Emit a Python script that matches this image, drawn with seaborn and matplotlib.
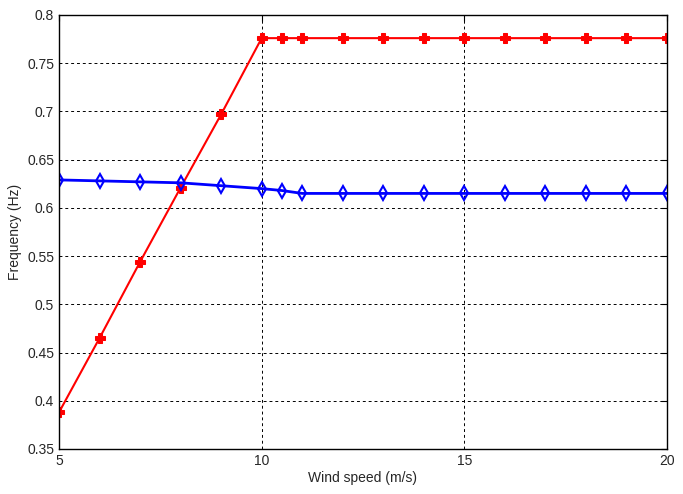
import numpy as np
import pandas as pd
import matplotlib
matplotlib.use('Agg')
import matplotlib.pyplot as plt
import seaborn as sns
from matplotlib.ticker import FuncFormatter

# dati
wind_speed = [5, 6, 7, 8, 9, 10, 10.5, 11, 12, 13, 14, 15, 16, 17, 18, 19, 20]
freq_red = [0.388, 0.465, 0.544, 0.621, 0.697, 0.776, 0.776, 0.776, 0.776, 0.776,
            0.776, 0.776, 0.776, 0.776, 0.776, 0.776, 0.776]
freq_blue = [0.629, 0.628, 0.627, 0.626, 0.623, 0.620, 0.618, 0.615, 0.615, 0.615,
             0.615, 0.615, 0.615, 0.615, 0.615, 0.615, 0.615]
xticks = [5, 10, 15, 20]
yticks = [0.35, 0.4, 0.45, 0.5, 0.55, 0.6, 0.65, 0.7, 0.75, 0.8]

df = pd.DataFrame({'ws': wind_speed, 'red': freq_red, 'blue': freq_blue})

sns.set_style('white')
plt.rcParams['font.family'] = ['Liberation Sans', 'DejaVu Sans']

fig = plt.figure(figsize=(6.83, 4.94), dpi=100)
ax = fig.add_axes([59 / 683, 1 - 449 / 494, (667 - 59) / 683, (449 - 15) / 494])

sns.lineplot(data=df, x='ws', y='red', ax=ax, color='red', lw=1.5,
             marker='P', markersize=7.5, markeredgecolor='red', markerfacecolor='red')
sns.lineplot(data=df, x='ws', y='blue', ax=ax, color='blue', lw=2,
             marker='d', markersize=7.5, markeredgecolor='blue', markerfacecolor='none',
             markeredgewidth=1.5)

ax.set_xlim(5, 20)
ax.set_ylim(0.35, 0.8)
ax.set_xticks(xticks)
ax.set_yticks(yticks)
ax.yaxis.set_major_formatter(FuncFormatter(lambda v, p: ('%g' % round(v, 2))))
ax.grid(True, color='black', linestyle=(0, (3, 3)), linewidth=0.7)
ax.tick_params(direction='in', top=True, right=True, length=4, labelsize=10, color='black')
for s in ax.spines.values():
    s.set_color('black')
    s.set_linewidth(1)

ax.set_xlabel('Wind speed (m/s)', fontsize=10, labelpad=2)
ax.set_ylabel('Frequency (Hz)', fontsize=10, labelpad=4)

fig.savefig('out.png', dpi=100)
